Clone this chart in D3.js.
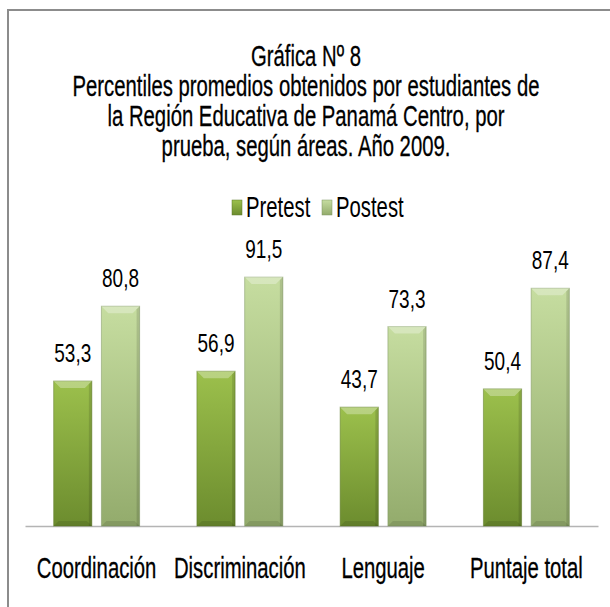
<!DOCTYPE html>
<html>
<head>
<meta charset="utf-8">
<script src="https://cdn.jsdelivr.net/npm/d3@7"></script>
<style>
  body { margin: 0; background: #fff; }
  text { font-family: "Liberation Sans", Arial, sans-serif; fill: #000; }
</style>
</head>
<body>
<div id="viz"></div>
<script>
const categories = ["Coordinación", "Discriminación", "Lenguaje", "Puntaje total"];
const seriesNames = ["Pretest", "Postest"];
const pretest = [53.3, 56.9, 43.7, 50.4];
const postest = [80.8, 91.5, 73.3, 87.4];
const titleLines = [
  "Gráfica Nº 8",
  "Percentiles promedios obtenidos por estudiantes de",
  "la Región Educativa de Panamá Centro, por",
  "prueba, según áreas. Año 2009."
];

const width = 610, height = 607;
const fmt = v => v.toFixed(1).replace(".", ",");
// the picture is squeezed sideways, so text gets a narrow scale
const narrow = 0.70;

const svg = d3.select("#viz").append("svg")
  .attr("width", width)
  .attr("height", height);

const defs = svg.append("defs");
const grads = [
  { id: "gPre", top: "#9cc04c", bottom: "#6c8c2e", edge: "#5e7a28" },
  { id: "gPost", top: "#c6dda0", bottom: "#93ab6c", edge: "#7e9560" }
];
grads.forEach(g => {
  const lg = defs.append("linearGradient").attr("id", g.id)
    .attr("x1", 0).attr("y1", 0).attr("x2", 0).attr("y2", 1);
  lg.append("stop").attr("offset", "0%").attr("stop-color", g.top);
  lg.append("stop").attr("offset", "100%").attr("stop-color", g.bottom);
});

// frame
svg.append("path")
  .attr("d", `M8,${height} V10 H${width}`)
  .attr("fill", "none")
  .attr("stroke", "#8c8c8c")
  .attr("stroke-width", 2);

// title
svg.append("g").selectAll("text")
  .data(titleLines)
  .join("text")
  .attr("transform", (d, i) => `translate(306,${66 + i * 30}) scale(${narrow},1)`)
  .attr("text-anchor", "middle")
  .attr("font-size", 29)
  .attr("stroke", "#000")
  .attr("stroke-width", 0.3)
  .text(d => d);

const x0 = d3.scaleBand().domain(categories).range([25, 598]);
const x1 = d3.scaleBand().domain(seriesNames).range([0, x0.bandwidth()]).paddingInner(0.2).paddingOuter(0.6);
const y = d3.scaleLinear().domain([0, 100]).range([526, 254]);

const rows = categories.map((c, i) => ({ cat: c, values: [pretest[i], postest[i]] }));

// axis baseline + category labels
svg.append("g")
  .attr("transform", `translate(0,${y(0)})`)
  .call(d3.axisBottom(x0).tickSize(0).tickPadding(31))
  .call(g => g.select(".domain").attr("stroke", "#b4b4b4").attr("stroke-width", 1.5))
  .call(g => g.selectAll("text")
    .attr("font-size", 29)
    .attr("fill", "#000")
    .attr("stroke", "#000")
    .attr("stroke-width", 0.3)
    .attr("transform", `scale(0.70,1)`)
    .style("font-family", "'Liberation Sans', Arial, sans-serif"));

const groups = svg.append("g").selectAll("g")
  .data(rows)
  .join("g")
  .attr("transform", d => `translate(${x0(d.cat)},0)`);

const bars = groups.selectAll("g.bar")
  .data(d => d.values.map((v, j) => ({ key: seriesNames[j], v, j })))
  .join("g")
  .attr("class", "bar");

bars.append("rect")
  .attr("x", d => x1(d.key))
  .attr("y", d => y(d.v))
  .attr("width", x1.bandwidth())
  .attr("height", d => y(0) - y(d.v))
  .attr("fill", d => `url(#${grads[d.j].id})`)
  .attr("stroke", d => grads[d.j].edge)
  .attr("stroke-opacity", 0.5)
  .attr("stroke-width", 1);

// bevel highlight on top
bars.append("path")
  .attr("d", d => {
    const bx = x1(d.key), by = y(d.v), w = x1.bandwidth(), b = 7;
    return `M${bx},${by} H${bx + w} L${bx + w - b},${by + b} H${bx + b} Z`;
  })
  .attr("fill", "#fff")
  .attr("fill-opacity", 0.3);
// shaded sides and foot
bars.append("path")
  .attr("d", d => {
    const bx = x1(d.key), by = y(d.v), w = x1.bandwidth(), b = 3;
    return `M${bx + w},${by} V${y(0)} H${bx + w - b} V${by + b} Z`;
  })
  .attr("fill", "#000")
  .attr("fill-opacity", 0.12);
bars.append("path")
  .attr("d", d => {
    const bx = x1(d.key), w = x1.bandwidth(), b = 5, by = y(0);
    return `M${bx},${by} H${bx + w} L${bx + w - b},${by - b} H${bx + b} Z`;
  })
  .attr("fill", "#000")
  .attr("fill-opacity", 0.1);

bars.append("text")
  .attr("transform", d => `translate(${x1(d.key) + x1.bandwidth() / 2},${y(d.v) - 19}) scale(0.76,1)`)
  .attr("text-anchor", "middle")
  .attr("font-size", 25)
  .attr("fill", "#222")
  .text(d => fmt(d.v));

// legend
const legend = svg.append("g").attr("transform", "translate(0,217)");
const legendX = [232, 322];
seriesNames.forEach((s, i) => {
  legend.append("rect")
    .attr("x", legendX[i]).attr("y", -17)
    .attr("width", 10).attr("height", 15)
    .attr("fill", `url(#${grads[i].id})`)
    .attr("stroke", grads[i].edge).attr("stroke-width", 0.5);
  legend.append("text")
    .attr("transform", `translate(${legendX[i] + 14},0) scale(0.70,1)`)
    .attr("font-size", 29)
    .text(s);
});
</script>
</body>
</html>
